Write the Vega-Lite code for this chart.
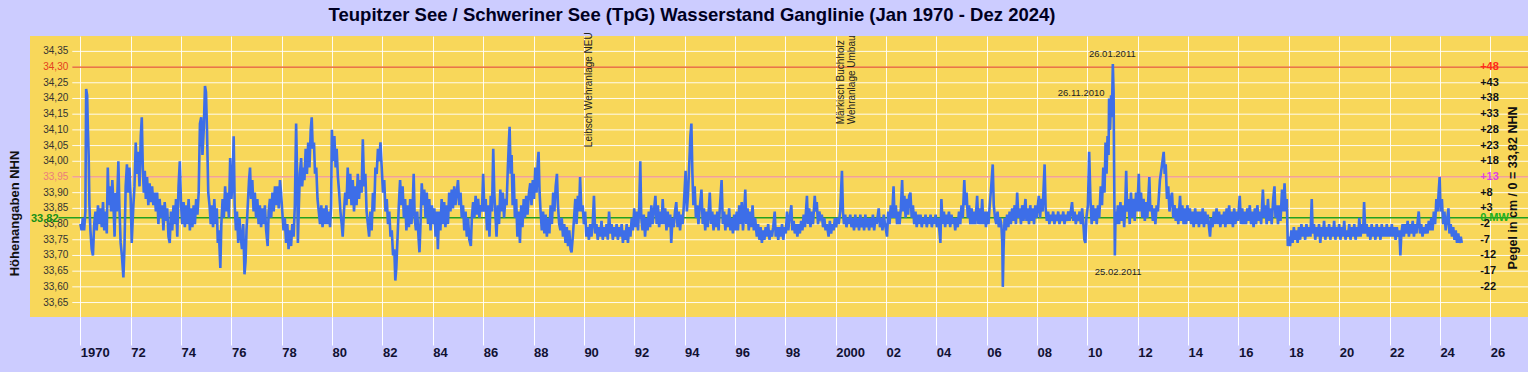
{
"$schema": "https://vega.github.io/schema/vega-lite/v6.json",
"width": 1498, "height": 281,
"autosize": {"type": "none"},
"padding": {"left": 30, "top": 36, "right": 0, "bottom": 55},
"background": "#CCCCFF",
"view": {"fill": "#F8D75A", "stroke": null},
"config": {"font": "Liberation Sans"},
"title": {"text": "Teupitzer See / Schweriner See (TpG) Wasserstand Ganglinie (Jan 1970 - Dez 2024)", "fontSize": 18.5, "fontWeight": "bold", "color": "#000022", "anchor": "middle", "dx": -87, "offset": 8},
"resolve": {"scale": {"color": "independent"}},
"datasets": {
"grid": [{"g":33.55,"lab":"33,65","k":"n"},{"g":33.60,"lab":"33,60","k":"n"},{"g":33.65,"lab":"33,65","k":"n"},{"g":33.70,"lab":"33,70","k":"n"},{"g":33.75,"lab":"33,75","k":"n"},{"g":33.80,"lab":"33,80","k":"n"},{"g":33.85,"lab":"33,85","k":"n"},{"g":33.90,"lab":"33,90","k":"n"},{"g":33.95,"lab":"33,95","k":"p"},{"g":34.00,"lab":"34,00","k":"n"},{"g":34.05,"lab":"34,05","k":"n"},{"g":34.10,"lab":"34,10","k":"n"},{"g":34.15,"lab":"34,15","k":"n"},{"g":34.20,"lab":"34,20","k":"n"},{"g":34.25,"lab":"34,25","k":"n"},{"g":34.30,"lab":"34,30","k":"r"},{"g":34.35,"lab":"34,35","k":"n"}],
"refs": [{"v":34.30,"k":"HW"},{"v":33.95,"k":"W"}],
"mw": [{"v":33.82,"lab":"33,82"}],
"rtitle": [{"lab":"Pegel in cm / 0 = 33,82 NHN"}],
"right": [{"v":34.30,"lab":"+48","k":"r"},{"v":34.25,"lab":"+43","k":"n"},{"v":34.20,"lab":"+38","k":"n"},{"v":34.15,"lab":"+33","k":"n"},{"v":34.10,"lab":"+28","k":"n"},{"v":34.05,"lab":"+23","k":"n"},{"v":34.00,"lab":"+18","k":"n"},{"v":33.95,"lab":"+13","k":"m"},{"v":33.90,"lab":"+8","k":"n"},{"v":33.85,"lab":"+3","k":"n"},{"v":33.82,"lab":"0 MW","k":"g"},{"v":33.80,"lab":"-2","k":"n"},{"v":33.75,"lab":"-7","k":"n"},{"v":33.70,"lab":"-12","k":"n"},{"v":33.65,"lab":"-17","k":"n"},{"v":33.60,"lab":"-22","k":"n"}],
"vnotes": [{"t":1990.21,"v":34.045,"txt":"Leibsch Wehranlage NEU"},{"t":2000.22,"v":34.118,"txt":"Märkisch Buchholz"},{"t":2000.64,"v":34.118,"txt":"Wehranlage Umbau"}],
"dnotes": [{"t":2010.99,"v":34.341,"txt":"26.01.2011"},{"t":2009.75,"v":34.217,"txt":"26.11.2010"},{"t":2011.22,"v":33.647,"txt":"25.02.2011"}],
"series": [
{"t":1970.00,"v":33.80},{"t":1970.05,"v":33.78},{"t":1970.10,"v":33.82},{"t":1970.15,"v":33.78},{"t":1970.20,"v":33.84},{"t":1970.23,"v":34.23},{"t":1970.27,"v":34.21},{"t":1970.30,"v":34.10},{"t":1970.33,"v":34.02},{"t":1970.36,"v":33.86},{"t":1970.40,"v":33.78},{"t":1970.45,"v":33.72},{"t":1970.50,"v":33.70},{"t":1970.55,"v":33.80},{"t":1970.60,"v":33.84},{"t":1970.65,"v":33.78},{"t":1970.70,"v":33.86},{"t":1970.75,"v":33.80},{"t":1970.80,"v":33.85},{"t":1970.85,"v":33.79},{"t":1970.90,"v":33.87},{"t":1970.95,"v":33.78},
{"t":1971.00,"v":33.84},{"t":1971.05,"v":33.77},{"t":1971.09,"v":33.98},{"t":1971.13,"v":33.86},{"t":1971.18,"v":33.92},{"t":1971.22,"v":33.84},{"t":1971.27,"v":33.94},{"t":1971.32,"v":33.85},{"t":1971.36,"v":33.76},{"t":1971.40,"v":33.90},{"t":1971.45,"v":33.84},{"t":1971.51,"v":34.00},{"t":1971.55,"v":33.86},{"t":1971.60,"v":33.74},{"t":1971.65,"v":33.70},{"t":1971.71,"v":33.63},{"t":1971.75,"v":33.72},{"t":1971.80,"v":33.92},{"t":1971.85,"v":33.99},{"t":1971.90,"v":33.90},{"t":1971.95,"v":33.98},
{"t":1972.00,"v":33.88},{"t":1972.04,"v":33.74},{"t":1972.10,"v":33.85},{"t":1972.15,"v":33.92},{"t":1972.20,"v":34.06},{"t":1972.25,"v":33.96},{"t":1972.30,"v":34.03},{"t":1972.35,"v":33.92},{"t":1972.40,"v":34.08},{"t":1972.44,"v":34.14},{"t":1972.48,"v":33.98},{"t":1972.52,"v":33.90},{"t":1972.56,"v":33.97},{"t":1972.60,"v":33.88},{"t":1972.65,"v":33.95},{"t":1972.70,"v":33.86},{"t":1972.75,"v":33.93},{"t":1972.80,"v":33.87},{"t":1972.85,"v":33.92},{"t":1972.90,"v":33.86},{"t":1972.95,"v":33.90},
{"t":1973.00,"v":33.84},{"t":1973.05,"v":33.90},{"t":1973.10,"v":33.80},{"t":1973.15,"v":33.88},{"t":1973.20,"v":33.82},{"t":1973.25,"v":33.86},{"t":1973.30,"v":33.78},{"t":1973.35,"v":33.87},{"t":1973.40,"v":33.81},{"t":1973.45,"v":33.85},{"t":1973.50,"v":33.76},{"t":1973.55,"v":33.74},{"t":1973.60,"v":33.84},{"t":1973.65,"v":33.78},{"t":1973.70,"v":33.86},{"t":1973.75,"v":33.80},{"t":1973.80,"v":33.88},{"t":1973.85,"v":33.76},{"t":1973.90,"v":33.92},{"t":1973.95,"v":34.00},
{"t":1974.00,"v":33.86},{"t":1974.05,"v":33.80},{"t":1974.10,"v":33.87},{"t":1974.15,"v":33.79},{"t":1974.20,"v":33.86},{"t":1974.25,"v":33.80},{"t":1974.30,"v":33.88},{"t":1974.35,"v":33.78},{"t":1974.40,"v":33.85},{"t":1974.45,"v":33.79},{"t":1974.50,"v":33.86},{"t":1974.55,"v":33.80},{"t":1974.60,"v":33.88},{"t":1974.65,"v":33.83},{"t":1974.70,"v":33.90},{"t":1974.75,"v":34.12},{"t":1974.80,"v":34.14},{"t":1974.85,"v":34.02},{"t":1974.90,"v":34.10},{"t":1974.95,"v":34.24},{"t":1974.99,"v":34.22},
{"t":1975.03,"v":34.10},{"t":1975.08,"v":33.90},{"t":1975.13,"v":33.86},{"t":1975.18,"v":33.80},{"t":1975.22,"v":33.86},{"t":1975.27,"v":33.79},{"t":1975.32,"v":33.88},{"t":1975.37,"v":33.80},{"t":1975.42,"v":33.85},{"t":1975.46,"v":33.74},{"t":1975.50,"v":33.78},{"t":1975.56,"v":33.66},{"t":1975.60,"v":33.80},{"t":1975.65,"v":33.88},{"t":1975.70,"v":33.82},{"t":1975.75,"v":33.92},{"t":1975.80,"v":33.84},{"t":1975.85,"v":33.90},{"t":1975.90,"v":33.82},{"t":1975.95,"v":34.01},
{"t":1976.00,"v":33.88},{"t":1976.05,"v":33.94},{"t":1976.09,"v":34.08},{"t":1976.13,"v":33.86},{"t":1976.18,"v":33.78},{"t":1976.22,"v":33.84},{"t":1976.27,"v":33.74},{"t":1976.32,"v":33.82},{"t":1976.37,"v":33.76},{"t":1976.42,"v":33.72},{"t":1976.47,"v":33.80},{"t":1976.52,"v":33.64},{"t":1976.56,"v":33.68},{"t":1976.60,"v":33.78},{"t":1976.65,"v":33.86},{"t":1976.70,"v":33.94},{"t":1976.74,"v":33.98},{"t":1976.78,"v":33.88},{"t":1976.83,"v":33.94},{"t":1976.88,"v":33.84},{"t":1976.93,"v":33.90},{"t":1976.98,"v":33.82},
{"t":1977.03,"v":33.88},{"t":1977.08,"v":33.80},{"t":1977.13,"v":33.86},{"t":1977.18,"v":33.79},{"t":1977.23,"v":33.85},{"t":1977.28,"v":33.80},{"t":1977.33,"v":33.86},{"t":1977.38,"v":33.78},{"t":1977.44,"v":33.73},{"t":1977.48,"v":33.84},{"t":1977.53,"v":33.88},{"t":1977.58,"v":33.82},{"t":1977.63,"v":33.90},{"t":1977.68,"v":33.84},{"t":1977.73,"v":33.92},{"t":1977.78,"v":33.86},{"t":1977.83,"v":33.92},{"t":1977.88,"v":33.85},{"t":1977.93,"v":33.94},{"t":1977.97,"v":33.90},
{"t":1978.02,"v":33.84},{"t":1978.07,"v":33.78},{"t":1978.12,"v":33.82},{"t":1978.17,"v":33.74},{"t":1978.22,"v":33.80},{"t":1978.27,"v":33.72},{"t":1978.32,"v":33.78},{"t":1978.37,"v":33.73},{"t":1978.42,"v":33.80},{"t":1978.47,"v":33.76},{"t":1978.52,"v":33.86},{"t":1978.57,"v":34.12},{"t":1978.61,"v":33.96},{"t":1978.64,"v":33.74},{"t":1978.68,"v":33.86},{"t":1978.72,"v":33.96},{"t":1978.77,"v":34.01},{"t":1978.81,"v":33.92},{"t":1978.86,"v":33.98},{"t":1978.90,"v":33.94},{"t":1978.95,"v":34.04},
{"t":1979.00,"v":33.96},{"t":1979.05,"v":34.06},{"t":1979.10,"v":33.98},{"t":1979.15,"v":34.10},{"t":1979.19,"v":34.14},{"t":1979.23,"v":34.04},{"t":1979.28,"v":34.06},{"t":1979.32,"v":33.96},{"t":1979.37,"v":33.98},{"t":1979.42,"v":33.88},{"t":1979.47,"v":33.84},{"t":1979.52,"v":33.80},{"t":1979.57,"v":33.86},{"t":1979.62,"v":33.79},{"t":1979.67,"v":33.85},{"t":1979.72,"v":33.80},{"t":1979.77,"v":33.86},{"t":1979.82,"v":33.80},{"t":1979.87,"v":33.84},{"t":1979.92,"v":33.79},{"t":1979.96,"v":33.86},{"t":1979.99,"v":34.10},
{"t":1980.04,"v":34.00},{"t":1980.09,"v":34.08},{"t":1980.14,"v":33.98},{"t":1980.18,"v":34.04},{"t":1980.23,"v":33.95},{"t":1980.28,"v":33.90},{"t":1980.33,"v":33.84},{"t":1980.38,"v":33.80},{"t":1980.42,"v":33.76},{"t":1980.47,"v":33.84},{"t":1980.52,"v":33.90},{"t":1980.57,"v":33.86},{"t":1980.62,"v":33.98},{"t":1980.67,"v":33.88},{"t":1980.72,"v":33.96},{"t":1980.77,"v":33.86},{"t":1980.82,"v":33.94},{"t":1980.87,"v":33.84},{"t":1980.92,"v":33.92},{"t":1980.97,"v":33.86},
{"t":1981.02,"v":33.96},{"t":1981.07,"v":33.88},{"t":1981.12,"v":33.94},{"t":1981.17,"v":33.90},{"t":1981.22,"v":34.07},{"t":1981.27,"v":33.92},{"t":1981.32,"v":33.96},{"t":1981.37,"v":33.84},{"t":1981.42,"v":33.80},{"t":1981.47,"v":33.76},{"t":1981.52,"v":33.84},{"t":1981.57,"v":33.78},{"t":1981.62,"v":33.90},{"t":1981.67,"v":33.84},{"t":1981.72,"v":33.98},{"t":1981.77,"v":33.96},{"t":1981.82,"v":34.04},{"t":1981.87,"v":34.00},{"t":1981.92,"v":34.06},{"t":1981.97,"v":33.98},
{"t":1982.02,"v":33.90},{"t":1982.07,"v":33.94},{"t":1982.12,"v":33.84},{"t":1982.17,"v":33.88},{"t":1982.22,"v":33.80},{"t":1982.27,"v":33.84},{"t":1982.32,"v":33.76},{"t":1982.37,"v":33.78},{"t":1982.42,"v":33.70},{"t":1982.47,"v":33.72},{"t":1982.51,"v":33.62},{"t":1982.55,"v":33.66},{"t":1982.60,"v":33.76},{"t":1982.65,"v":33.86},{"t":1982.70,"v":33.94},{"t":1982.75,"v":33.86},{"t":1982.80,"v":33.92},{"t":1982.85,"v":33.82},{"t":1982.90,"v":33.88},{"t":1982.95,"v":33.78},
{"t":1983.00,"v":33.86},{"t":1983.05,"v":33.79},{"t":1983.10,"v":33.88},{"t":1983.15,"v":33.80},{"t":1983.20,"v":33.86},{"t":1983.24,"v":33.96},{"t":1983.28,"v":33.82},{"t":1983.33,"v":33.78},{"t":1983.38,"v":33.84},{"t":1983.43,"v":33.76},{"t":1983.47,"v":33.71},{"t":1983.52,"v":33.82},{"t":1983.56,"v":33.93},{"t":1983.61,"v":33.86},{"t":1983.66,"v":33.91},{"t":1983.71,"v":33.82},{"t":1983.76,"v":33.90},{"t":1983.81,"v":33.80},{"t":1983.86,"v":33.88},{"t":1983.91,"v":33.78},{"t":1983.96,"v":33.86},
{"t":1984.01,"v":33.80},{"t":1984.06,"v":33.85},{"t":1984.11,"v":33.76},{"t":1984.16,"v":33.84},{"t":1984.20,"v":33.72},{"t":1984.25,"v":33.84},{"t":1984.30,"v":33.78},{"t":1984.35,"v":33.88},{"t":1984.40,"v":33.80},{"t":1984.45,"v":33.87},{"t":1984.50,"v":33.79},{"t":1984.55,"v":33.86},{"t":1984.60,"v":33.80},{"t":1984.65,"v":33.90},{"t":1984.70,"v":33.84},{"t":1984.75,"v":33.91},{"t":1984.80,"v":33.85},{"t":1984.85,"v":33.92},{"t":1984.90,"v":33.86},{"t":1984.95,"v":33.90},
{"t":1985.00,"v":33.94},{"t":1985.05,"v":33.86},{"t":1985.10,"v":33.90},{"t":1985.15,"v":33.82},{"t":1985.20,"v":33.86},{"t":1985.25,"v":33.78},{"t":1985.30,"v":33.84},{"t":1985.35,"v":33.76},{"t":1985.40,"v":33.82},{"t":1985.45,"v":33.75},{"t":1985.51,"v":33.73},{"t":1985.55,"v":33.82},{"t":1985.60,"v":33.87},{"t":1985.65,"v":33.82},{"t":1985.70,"v":33.89},{"t":1985.75,"v":33.83},{"t":1985.80,"v":33.88},{"t":1985.85,"v":33.82},{"t":1985.90,"v":33.86},{"t":1985.95,"v":33.84},
{"t":1986.00,"v":33.96},{"t":1986.05,"v":33.84},{"t":1986.10,"v":33.88},{"t":1986.15,"v":33.78},{"t":1986.20,"v":33.86},{"t":1986.25,"v":33.76},{"t":1986.30,"v":33.89},{"t":1986.35,"v":33.84},{"t":1986.40,"v":34.04},{"t":1986.44,"v":33.90},{"t":1986.48,"v":33.84},{"t":1986.53,"v":33.76},{"t":1986.58,"v":33.86},{"t":1986.63,"v":33.80},{"t":1986.68,"v":33.91},{"t":1986.73,"v":33.84},{"t":1986.78,"v":33.90},{"t":1986.83,"v":33.82},{"t":1986.88,"v":33.88},{"t":1986.93,"v":33.86},{"t":1986.98,"v":33.98},
{"t":1987.02,"v":34.06},{"t":1987.05,"v":34.11},{"t":1987.09,"v":33.96},{"t":1987.13,"v":34.02},{"t":1987.17,"v":33.86},{"t":1987.21,"v":33.96},{"t":1987.26,"v":33.82},{"t":1987.31,"v":33.88},{"t":1987.36,"v":33.76},{"t":1987.41,"v":33.84},{"t":1987.46,"v":33.74},{"t":1987.51,"v":33.86},{"t":1987.56,"v":33.79},{"t":1987.61,"v":33.88},{"t":1987.66,"v":33.82},{"t":1987.71,"v":33.89},{"t":1987.76,"v":33.83},{"t":1987.82,"v":33.90},{"t":1987.87,"v":33.93},{"t":1987.92,"v":33.86},{"t":1987.97,"v":33.94},
{"t":1988.02,"v":33.88},{"t":1988.07,"v":33.98},{"t":1988.12,"v":33.90},{"t":1988.17,"v":34.00},{"t":1988.20,"v":34.03},{"t":1988.24,"v":33.90},{"t":1988.28,"v":33.84},{"t":1988.33,"v":33.78},{"t":1988.38,"v":33.84},{"t":1988.43,"v":33.77},{"t":1988.48,"v":33.83},{"t":1988.53,"v":33.76},{"t":1988.58,"v":33.82},{"t":1988.63,"v":33.77},{"t":1988.68,"v":33.86},{"t":1988.73,"v":33.80},{"t":1988.78,"v":33.90},{"t":1988.83,"v":33.84},{"t":1988.88,"v":33.92},{"t":1988.93,"v":33.96},{"t":1988.97,"v":33.86},
{"t":1989.02,"v":33.80},{"t":1989.07,"v":33.78},{"t":1989.12,"v":33.82},{"t":1989.17,"v":33.76},{"t":1989.22,"v":33.80},{"t":1989.27,"v":33.74},{"t":1989.32,"v":33.79},{"t":1989.37,"v":33.73},{"t":1989.42,"v":33.78},{"t":1989.47,"v":33.72},{"t":1989.51,"v":33.71},{"t":1989.56,"v":33.76},{"t":1989.61,"v":33.82},{"t":1989.66,"v":33.88},{"t":1989.71,"v":33.80},{"t":1989.76,"v":33.89},{"t":1989.81,"v":33.84},{"t":1989.85,"v":33.95},{"t":1989.90,"v":33.84},{"t":1989.95,"v":33.86},
{"t":1990.00,"v":33.80},{"t":1990.05,"v":33.84},{"t":1990.10,"v":33.76},{"t":1990.15,"v":33.79},{"t":1990.20,"v":33.75},{"t":1990.25,"v":33.80},{"t":1990.30,"v":33.76},{"t":1990.35,"v":33.80},{"t":1990.40,"v":33.89},{"t":1990.45,"v":33.77},{"t":1990.50,"v":33.80},{"t":1990.55,"v":33.75},{"t":1990.60,"v":33.79},{"t":1990.65,"v":33.76},{"t":1990.70,"v":33.81},{"t":1990.75,"v":33.75},{"t":1990.80,"v":33.79},{"t":1990.85,"v":33.76},{"t":1990.90,"v":33.80},{"t":1990.95,"v":33.75},
{"t":1991.00,"v":33.84},{"t":1991.05,"v":33.77},{"t":1991.10,"v":33.80},{"t":1991.15,"v":33.75},{"t":1991.20,"v":33.79},{"t":1991.25,"v":33.76},{"t":1991.30,"v":33.80},{"t":1991.35,"v":33.75},{"t":1991.40,"v":33.79},{"t":1991.45,"v":33.76},{"t":1991.50,"v":33.80},{"t":1991.55,"v":33.74},{"t":1991.60,"v":33.78},{"t":1991.65,"v":33.75},{"t":1991.70,"v":33.80},{"t":1991.75,"v":33.74},{"t":1991.80,"v":33.79},{"t":1991.85,"v":33.76},{"t":1991.90,"v":33.82},{"t":1991.95,"v":33.78},
{"t":1992.00,"v":33.85},{"t":1992.05,"v":33.79},{"t":1992.10,"v":33.84},{"t":1992.15,"v":33.78},{"t":1992.20,"v":33.86},{"t":1992.24,"v":34.00},{"t":1992.28,"v":33.82},{"t":1992.33,"v":33.78},{"t":1992.38,"v":33.83},{"t":1992.43,"v":33.76},{"t":1992.48,"v":33.82},{"t":1992.53,"v":33.78},{"t":1992.58,"v":33.84},{"t":1992.63,"v":33.79},{"t":1992.68,"v":33.86},{"t":1992.73,"v":33.80},{"t":1992.78,"v":33.84},{"t":1992.84,"v":33.89},{"t":1992.89,"v":33.80},{"t":1992.94,"v":33.86},{"t":1992.99,"v":33.79},
{"t":1993.04,"v":33.84},{"t":1993.09,"v":33.80},{"t":1993.13,"v":33.88},{"t":1993.18,"v":33.80},{"t":1993.23,"v":33.85},{"t":1993.28,"v":33.78},{"t":1993.33,"v":33.84},{"t":1993.38,"v":33.79},{"t":1993.43,"v":33.83},{"t":1993.47,"v":33.74},{"t":1993.52,"v":33.82},{"t":1993.57,"v":33.79},{"t":1993.62,"v":33.84},{"t":1993.67,"v":33.87},{"t":1993.72,"v":33.79},{"t":1993.77,"v":33.84},{"t":1993.82,"v":33.78},{"t":1993.87,"v":33.83},{"t":1993.92,"v":33.80},{"t":1993.97,"v":33.86},
{"t":1994.04,"v":33.97},{"t":1994.09,"v":33.84},{"t":1994.14,"v":33.90},{"t":1994.19,"v":34.00},{"t":1994.23,"v":34.08},{"t":1994.27,"v":34.12},{"t":1994.31,"v":33.96},{"t":1994.35,"v":33.86},{"t":1994.40,"v":33.92},{"t":1994.45,"v":33.82},{"t":1994.50,"v":33.86},{"t":1994.55,"v":33.80},{"t":1994.60,"v":33.85},{"t":1994.67,"v":33.91},{"t":1994.72,"v":33.80},{"t":1994.77,"v":33.85},{"t":1994.82,"v":33.78},{"t":1994.87,"v":33.84},{"t":1994.92,"v":33.79},
{"t":1995.00,"v":33.90},{"t":1995.05,"v":33.80},{"t":1995.10,"v":33.84},{"t":1995.15,"v":33.78},{"t":1995.20,"v":33.83},{"t":1995.25,"v":33.79},{"t":1995.30,"v":33.84},{"t":1995.35,"v":33.78},{"t":1995.40,"v":33.85},{"t":1995.47,"v":33.94},{"t":1995.52,"v":33.80},{"t":1995.57,"v":33.84},{"t":1995.62,"v":33.78},{"t":1995.67,"v":33.83},{"t":1995.72,"v":33.79},{"t":1995.77,"v":33.85},{"t":1995.82,"v":33.78},{"t":1995.87,"v":33.82},{"t":1995.92,"v":33.77},{"t":1995.97,"v":33.83},
{"t":1996.02,"v":33.78},{"t":1996.07,"v":33.84},{"t":1996.12,"v":33.78},{"t":1996.17,"v":33.86},{"t":1996.22,"v":33.80},{"t":1996.27,"v":33.87},{"t":1996.32,"v":33.78},{"t":1996.37,"v":33.84},{"t":1996.41,"v":33.91},{"t":1996.45,"v":33.80},{"t":1996.50,"v":33.85},{"t":1996.55,"v":33.78},{"t":1996.60,"v":33.84},{"t":1996.65,"v":33.79},{"t":1996.70,"v":33.86},{"t":1996.75,"v":33.78},{"t":1996.80,"v":33.82},{"t":1996.87,"v":33.76},{"t":1996.92,"v":33.80},{"t":1996.97,"v":33.75},
{"t":1997.02,"v":33.79},{"t":1997.07,"v":33.74},{"t":1997.12,"v":33.78},{"t":1997.17,"v":33.75},{"t":1997.22,"v":33.79},{"t":1997.27,"v":33.76},{"t":1997.32,"v":33.80},{"t":1997.37,"v":33.75},{"t":1997.42,"v":33.78},{"t":1997.47,"v":33.76},{"t":1997.52,"v":33.79},{"t":1997.58,"v":33.84},{"t":1997.62,"v":33.76},{"t":1997.67,"v":33.79},{"t":1997.72,"v":33.75},{"t":1997.77,"v":33.79},{"t":1997.82,"v":33.76},{"t":1997.87,"v":33.80},{"t":1997.92,"v":33.75},{"t":1997.97,"v":33.79},
{"t":1998.02,"v":33.77},{"t":1998.07,"v":33.84},{"t":1998.12,"v":33.78},{"t":1998.17,"v":33.82},{"t":1998.24,"v":33.86},{"t":1998.28,"v":33.78},{"t":1998.33,"v":33.81},{"t":1998.38,"v":33.77},{"t":1998.43,"v":33.80},{"t":1998.48,"v":33.76},{"t":1998.53,"v":33.80},{"t":1998.58,"v":33.77},{"t":1998.63,"v":33.81},{"t":1998.68,"v":33.78},{"t":1998.73,"v":33.83},{"t":1998.78,"v":33.79},{"t":1998.86,"v":33.89},{"t":1998.90,"v":33.80},{"t":1998.95,"v":33.85},
{"t":1999.00,"v":33.79},{"t":1999.05,"v":33.84},{"t":1999.10,"v":33.80},{"t":1999.17,"v":33.89},{"t":1999.21,"v":33.84},{"t":1999.25,"v":33.87},{"t":1999.30,"v":33.80},{"t":1999.35,"v":33.84},{"t":1999.40,"v":33.82},{"t":1999.45,"v":33.83},{"t":1999.50,"v":33.79},{"t":1999.55,"v":33.82},{"t":1999.60,"v":33.78},{"t":1999.65,"v":33.80},{"t":1999.72,"v":33.76},{"t":1999.77,"v":33.81},{"t":1999.82,"v":33.77},{"t":1999.87,"v":33.80},{"t":1999.92,"v":33.78},{"t":1999.97,"v":33.82},
{"t":2000.02,"v":33.79},{"t":2000.07,"v":33.82},{"t":2000.12,"v":33.80},{"t":2000.18,"v":33.84},{"t":2000.25,"v":33.97},{"t":2000.29,"v":33.84},{"t":2000.33,"v":33.80},{"t":2000.38,"v":33.83},{"t":2000.43,"v":33.79},{"t":2000.48,"v":33.82},{"t":2000.53,"v":33.80},{"t":2000.58,"v":33.83},{"t":2000.63,"v":33.79},{"t":2000.68,"v":33.82},{"t":2000.73,"v":33.78},{"t":2000.78,"v":33.83},{"t":2000.83,"v":33.79},{"t":2000.88,"v":33.82},{"t":2000.93,"v":33.78},{"t":2000.98,"v":33.83},
{"t":2001.03,"v":33.79},{"t":2001.08,"v":33.82},{"t":2001.13,"v":33.78},{"t":2001.18,"v":33.83},{"t":2001.23,"v":33.79},{"t":2001.28,"v":33.82},{"t":2001.33,"v":33.78},{"t":2001.38,"v":33.82},{"t":2001.43,"v":33.79},{"t":2001.48,"v":33.83},{"t":2001.53,"v":33.78},{"t":2001.58,"v":33.82},{"t":2001.63,"v":33.80},{"t":2001.71,"v":33.85},{"t":2001.76,"v":33.79},{"t":2001.81,"v":33.82},{"t":2001.86,"v":33.78},{"t":2001.91,"v":33.83},{"t":2001.96,"v":33.80},
{"t":2002.04,"v":33.76},{"t":2002.09,"v":33.84},{"t":2002.14,"v":33.80},{"t":2002.19,"v":33.86},{"t":2002.24,"v":33.82},{"t":2002.30,"v":33.92},{"t":2002.34,"v":33.82},{"t":2002.39,"v":33.86},{"t":2002.44,"v":33.80},{"t":2002.49,"v":33.84},{"t":2002.54,"v":33.80},{"t":2002.59,"v":33.85},{"t":2002.64,"v":33.94},{"t":2002.68,"v":33.84},{"t":2002.73,"v":33.89},{"t":2002.78,"v":33.82},{"t":2002.83,"v":33.88},{"t":2002.88,"v":33.83},{"t":2002.92,"v":33.89},{"t":2002.97,"v":33.90},
{"t":2003.02,"v":33.82},{"t":2003.07,"v":33.86},{"t":2003.12,"v":33.80},{"t":2003.17,"v":33.84},{"t":2003.22,"v":33.79},{"t":2003.27,"v":33.83},{"t":2003.32,"v":33.80},{"t":2003.37,"v":33.83},{"t":2003.42,"v":33.79},{"t":2003.47,"v":33.82},{"t":2003.52,"v":33.80},{"t":2003.57,"v":33.83},{"t":2003.62,"v":33.79},{"t":2003.67,"v":33.82},{"t":2003.72,"v":33.80},{"t":2003.77,"v":33.83},{"t":2003.82,"v":33.79},{"t":2003.87,"v":33.82},{"t":2003.92,"v":33.80},{"t":2003.97,"v":33.83},
{"t":2004.02,"v":33.79},{"t":2004.07,"v":33.82},{"t":2004.12,"v":33.78},{"t":2004.16,"v":33.74},{"t":2004.20,"v":33.88},{"t":2004.25,"v":33.80},{"t":2004.30,"v":33.84},{"t":2004.35,"v":33.79},{"t":2004.40,"v":33.83},{"t":2004.45,"v":33.80},{"t":2004.50,"v":33.84},{"t":2004.55,"v":33.79},{"t":2004.60,"v":33.83},{"t":2004.65,"v":33.80},{"t":2004.70,"v":33.82},{"t":2004.75,"v":33.78},{"t":2004.80,"v":33.82},{"t":2004.85,"v":33.79},{"t":2004.90,"v":33.84},{"t":2004.95,"v":33.80},
{"t":2005.00,"v":33.86},{"t":2005.05,"v":33.82},{"t":2005.11,"v":33.94},{"t":2005.15,"v":33.86},{"t":2005.20,"v":33.90},{"t":2005.25,"v":33.82},{"t":2005.30,"v":33.86},{"t":2005.35,"v":33.80},{"t":2005.40,"v":33.85},{"t":2005.45,"v":33.80},{"t":2005.50,"v":33.84},{"t":2005.55,"v":33.80},{"t":2005.62,"v":33.89},{"t":2005.67,"v":33.80},{"t":2005.72,"v":33.85},{"t":2005.77,"v":33.80},{"t":2005.82,"v":33.88},{"t":2005.87,"v":33.80},{"t":2005.92,"v":33.84},{"t":2005.97,"v":33.79},
{"t":2006.02,"v":33.84},{"t":2006.07,"v":33.80},{"t":2006.12,"v":33.86},{"t":2006.18,"v":33.92},{"t":2006.24,"v":33.99},{"t":2006.28,"v":33.86},{"t":2006.33,"v":33.82},{"t":2006.38,"v":33.80},{"t":2006.43,"v":33.84},{"t":2006.48,"v":33.79},{"t":2006.53,"v":33.82},{"t":2006.58,"v":33.80},{"t":2006.62,"v":33.74},{"t":2006.64,"v":33.60},{"t":2006.67,"v":33.72},{"t":2006.71,"v":33.82},{"t":2006.76,"v":33.78},{"t":2006.81,"v":33.83},{"t":2006.86,"v":33.79},{"t":2006.91,"v":33.84},{"t":2006.96,"v":33.80},
{"t":2007.01,"v":33.85},{"t":2007.06,"v":33.81},{"t":2007.11,"v":33.86},{"t":2007.16,"v":33.80},{"t":2007.21,"v":33.90},{"t":2007.26,"v":33.82},{"t":2007.31,"v":33.85},{"t":2007.36,"v":33.80},{"t":2007.41,"v":33.86},{"t":2007.46,"v":33.81},{"t":2007.54,"v":33.88},{"t":2007.58,"v":33.81},{"t":2007.63,"v":33.85},{"t":2007.68,"v":33.80},{"t":2007.73,"v":33.86},{"t":2007.78,"v":33.81},{"t":2007.83,"v":33.85},{"t":2007.88,"v":33.80},{"t":2007.93,"v":33.86},{"t":2007.98,"v":33.82},
{"t":2008.07,"v":33.89},{"t":2008.12,"v":33.82},{"t":2008.17,"v":33.88},{"t":2008.22,"v":33.84},{"t":2008.30,"v":33.99},{"t":2008.34,"v":33.85},{"t":2008.39,"v":33.81},{"t":2008.44,"v":33.84},{"t":2008.49,"v":33.80},{"t":2008.54,"v":33.83},{"t":2008.59,"v":33.81},{"t":2008.64,"v":33.84},{"t":2008.69,"v":33.80},{"t":2008.74,"v":33.83},{"t":2008.79,"v":33.81},{"t":2008.84,"v":33.84},{"t":2008.89,"v":33.80},{"t":2008.94,"v":33.83},{"t":2008.99,"v":33.81},
{"t":2009.04,"v":33.84},{"t":2009.09,"v":33.80},{"t":2009.14,"v":33.83},{"t":2009.19,"v":33.81},{"t":2009.24,"v":33.84},{"t":2009.29,"v":33.81},{"t":2009.34,"v":33.84},{"t":2009.39,"v":33.87},{"t":2009.44,"v":33.81},{"t":2009.49,"v":33.84},{"t":2009.54,"v":33.80},{"t":2009.59,"v":33.83},{"t":2009.64,"v":33.81},{"t":2009.69,"v":33.84},{"t":2009.74,"v":33.80},{"t":2009.79,"v":33.85},{"t":2009.84,"v":33.80},{"t":2009.88,"v":33.75},{"t":2009.92,"v":33.74},{"t":2009.96,"v":33.82},
{"t":2010.02,"v":33.86},{"t":2010.07,"v":34.03},{"t":2010.12,"v":33.88},{"t":2010.17,"v":33.80},{"t":2010.22,"v":33.86},{"t":2010.27,"v":33.81},{"t":2010.32,"v":33.85},{"t":2010.37,"v":33.80},{"t":2010.42,"v":33.86},{"t":2010.47,"v":33.82},{"t":2010.53,"v":33.92},{"t":2010.58,"v":33.86},{"t":2010.63,"v":33.98},{"t":2010.68,"v":33.90},{"t":2010.72,"v":34.06},{"t":2010.76,"v":33.96},{"t":2010.80,"v":34.08},{"t":2010.84,"v":34.02},{"t":2010.86,"v":34.20},{"t":2010.90,"v":34.10},{"t":2010.94,"v":34.21},{"t":2010.97,"v":34.14},
{"t":2011.01,"v":34.31},{"t":2011.04,"v":34.22},{"t":2011.06,"v":33.98},{"t":2011.09,"v":33.70},{"t":2011.12,"v":33.84},{"t":2011.16,"v":33.80},{"t":2011.21,"v":33.86},{"t":2011.26,"v":33.80},{"t":2011.31,"v":33.87},{"t":2011.36,"v":33.81},{"t":2011.41,"v":33.86},{"t":2011.46,"v":33.79},{"t":2011.50,"v":33.85},{"t":2011.54,"v":33.97},{"t":2011.58,"v":33.84},{"t":2011.63,"v":33.88},{"t":2011.68,"v":33.80},{"t":2011.73,"v":33.90},{"t":2011.78,"v":33.82},{"t":2011.83,"v":33.88},{"t":2011.88,"v":33.81},{"t":2011.93,"v":33.90},{"t":2011.98,"v":33.84},
{"t":2012.04,"v":33.96},{"t":2012.08,"v":33.84},{"t":2012.13,"v":33.90},{"t":2012.18,"v":33.82},{"t":2012.23,"v":33.88},{"t":2012.28,"v":33.81},{"t":2012.33,"v":33.87},{"t":2012.38,"v":33.82},{"t":2012.46,"v":33.95},{"t":2012.50,"v":33.84},{"t":2012.55,"v":33.86},{"t":2012.60,"v":33.81},{"t":2012.65,"v":33.85},{"t":2012.70,"v":33.80},{"t":2012.75,"v":33.86},{"t":2012.80,"v":33.84},{"t":2012.88,"v":33.94},{"t":2012.95,"v":33.98},
{"t":2013.03,"v":34.03},{"t":2013.07,"v":33.96},{"t":2013.11,"v":33.99},{"t":2013.16,"v":33.88},{"t":2013.21,"v":33.92},{"t":2013.26,"v":33.84},{"t":2013.31,"v":33.88},{"t":2013.36,"v":33.90},{"t":2013.41,"v":33.82},{"t":2013.46,"v":33.86},{"t":2013.51,"v":33.81},{"t":2013.56,"v":33.85},{"t":2013.61,"v":33.80},{"t":2013.68,"v":33.89},{"t":2013.72,"v":33.81},{"t":2013.77,"v":33.86},{"t":2013.82,"v":33.80},{"t":2013.87,"v":33.85},{"t":2013.92,"v":33.80},{"t":2013.97,"v":33.86},
{"t":2014.02,"v":33.81},{"t":2014.07,"v":33.85},{"t":2014.12,"v":33.80},{"t":2014.17,"v":33.84},{"t":2014.22,"v":33.79},{"t":2014.28,"v":33.85},{"t":2014.33,"v":33.80},{"t":2014.38,"v":33.84},{"t":2014.43,"v":33.79},{"t":2014.48,"v":33.84},{"t":2014.53,"v":33.80},{"t":2014.58,"v":33.85},{"t":2014.63,"v":33.79},{"t":2014.68,"v":33.84},{"t":2014.73,"v":33.80},{"t":2014.78,"v":33.83},{"t":2014.83,"v":33.79},{"t":2014.87,"v":33.76},{"t":2014.92,"v":33.82},{"t":2014.97,"v":33.79},
{"t":2015.02,"v":33.84},{"t":2015.07,"v":33.80},{"t":2015.13,"v":33.85},{"t":2015.18,"v":33.80},{"t":2015.23,"v":33.84},{"t":2015.28,"v":33.79},{"t":2015.33,"v":33.83},{"t":2015.38,"v":33.80},{"t":2015.43,"v":33.84},{"t":2015.48,"v":33.79},{"t":2015.53,"v":33.85},{"t":2015.58,"v":33.80},{"t":2015.63,"v":33.86},{"t":2015.68,"v":33.80},{"t":2015.73,"v":33.84},{"t":2015.78,"v":33.79},{"t":2015.83,"v":33.85},{"t":2015.88,"v":33.80},{"t":2015.93,"v":33.84},{"t":2015.98,"v":33.81},
{"t":2016.05,"v":33.89},{"t":2016.10,"v":33.80},{"t":2016.15,"v":33.85},{"t":2016.20,"v":33.80},{"t":2016.25,"v":33.84},{"t":2016.30,"v":33.80},{"t":2016.35,"v":33.85},{"t":2016.40,"v":33.81},{"t":2016.45,"v":33.86},{"t":2016.50,"v":33.80},{"t":2016.55,"v":33.84},{"t":2016.60,"v":33.79},{"t":2016.65,"v":33.85},{"t":2016.70,"v":33.80},{"t":2016.75,"v":33.86},{"t":2016.80,"v":33.81},{"t":2016.85,"v":33.84},{"t":2016.90,"v":33.80},{"t":2016.97,"v":33.91},
{"t":2017.02,"v":33.82},{"t":2017.07,"v":33.86},{"t":2017.12,"v":33.80},{"t":2017.17,"v":33.88},{"t":2017.22,"v":33.81},{"t":2017.27,"v":33.85},{"t":2017.32,"v":33.80},{"t":2017.38,"v":33.88},{"t":2017.43,"v":33.92},{"t":2017.47,"v":33.82},{"t":2017.52,"v":33.86},{"t":2017.57,"v":33.80},{"t":2017.62,"v":33.86},{"t":2017.67,"v":33.81},{"t":2017.73,"v":33.91},{"t":2017.78,"v":33.84},{"t":2017.83,"v":33.93},{"t":2017.88,"v":33.84},{"t":2017.92,"v":33.88},{"t":2017.96,"v":33.73},
{"t":2018.00,"v":33.76},{"t":2018.05,"v":33.73},{"t":2018.10,"v":33.78},{"t":2018.15,"v":33.74},{"t":2018.20,"v":33.79},{"t":2018.25,"v":33.75},{"t":2018.30,"v":33.78},{"t":2018.35,"v":33.74},{"t":2018.40,"v":33.79},{"t":2018.45,"v":33.75},{"t":2018.50,"v":33.80},{"t":2018.55,"v":33.76},{"t":2018.60,"v":33.79},{"t":2018.65,"v":33.75},{"t":2018.70,"v":33.80},{"t":2018.75,"v":33.76},{"t":2018.80,"v":33.79},{"t":2018.86,"v":33.76},{"t":2018.91,"v":33.88},{"t":2018.95,"v":33.77},
{"t":2019.00,"v":33.80},{"t":2019.05,"v":33.75},{"t":2019.10,"v":33.79},{"t":2019.15,"v":33.76},{"t":2019.20,"v":33.80},{"t":2019.25,"v":33.74},{"t":2019.30,"v":33.79},{"t":2019.35,"v":33.76},{"t":2019.40,"v":33.81},{"t":2019.45,"v":33.75},{"t":2019.50,"v":33.79},{"t":2019.55,"v":33.76},{"t":2019.60,"v":33.80},{"t":2019.65,"v":33.75},{"t":2019.70,"v":33.79},{"t":2019.75,"v":33.76},{"t":2019.80,"v":33.81},{"t":2019.85,"v":33.75},{"t":2019.90,"v":33.79},{"t":2019.95,"v":33.76},
{"t":2020.00,"v":33.80},{"t":2020.05,"v":33.75},{"t":2020.10,"v":33.79},{"t":2020.15,"v":33.76},{"t":2020.20,"v":33.81},{"t":2020.25,"v":33.75},{"t":2020.30,"v":33.78},{"t":2020.35,"v":33.76},{"t":2020.40,"v":33.80},{"t":2020.45,"v":33.75},{"t":2020.50,"v":33.79},{"t":2020.55,"v":33.76},{"t":2020.60,"v":33.80},{"t":2020.65,"v":33.75},{"t":2020.70,"v":33.79},{"t":2020.75,"v":33.76},{"t":2020.80,"v":33.82},{"t":2020.85,"v":33.76},{"t":2020.90,"v":33.80},{"t":2020.95,"v":33.77},{"t":2020.99,"v":33.87},
{"t":2021.04,"v":33.77},{"t":2021.09,"v":33.80},{"t":2021.14,"v":33.76},{"t":2021.19,"v":33.79},{"t":2021.24,"v":33.75},{"t":2021.29,"v":33.80},{"t":2021.34,"v":33.76},{"t":2021.39,"v":33.79},{"t":2021.44,"v":33.75},{"t":2021.49,"v":33.80},{"t":2021.54,"v":33.76},{"t":2021.59,"v":33.79},{"t":2021.64,"v":33.75},{"t":2021.69,"v":33.80},{"t":2021.74,"v":33.76},{"t":2021.79,"v":33.79},{"t":2021.84,"v":33.76},{"t":2021.89,"v":33.80},{"t":2021.94,"v":33.76},{"t":2021.99,"v":33.79},
{"t":2022.04,"v":33.76},{"t":2022.09,"v":33.80},{"t":2022.14,"v":33.76},{"t":2022.19,"v":33.79},{"t":2022.24,"v":33.75},{"t":2022.29,"v":33.79},{"t":2022.34,"v":33.76},{"t":2022.39,"v":33.78},{"t":2022.43,"v":33.70},{"t":2022.47,"v":33.77},{"t":2022.52,"v":33.80},{"t":2022.57,"v":33.76},{"t":2022.62,"v":33.80},{"t":2022.67,"v":33.77},{"t":2022.72,"v":33.81},{"t":2022.77,"v":33.76},{"t":2022.82,"v":33.80},{"t":2022.87,"v":33.77},{"t":2022.92,"v":33.81},{"t":2022.97,"v":33.76},
{"t":2023.02,"v":33.80},{"t":2023.07,"v":33.77},{"t":2023.12,"v":33.81},{"t":2023.16,"v":33.84},{"t":2023.21,"v":33.77},{"t":2023.26,"v":33.80},{"t":2023.31,"v":33.76},{"t":2023.36,"v":33.79},{"t":2023.41,"v":33.77},{"t":2023.46,"v":33.80},{"t":2023.51,"v":33.77},{"t":2023.56,"v":33.81},{"t":2023.61,"v":33.78},{"t":2023.66,"v":33.82},{"t":2023.71,"v":33.78},{"t":2023.76,"v":33.84},{"t":2023.81,"v":33.80},{"t":2023.86,"v":33.88},{"t":2023.91,"v":33.84},{"t":2023.95,"v":33.90},{"t":2023.99,"v":33.95},
{"t":2024.03,"v":33.84},{"t":2024.08,"v":33.88},{"t":2024.13,"v":33.80},{"t":2024.18,"v":33.84},{"t":2024.23,"v":33.78},{"t":2024.28,"v":33.81},{"t":2024.34,"v":33.85},{"t":2024.38,"v":33.77},{"t":2024.43,"v":33.80},{"t":2024.48,"v":33.76},{"t":2024.53,"v":33.79},{"t":2024.58,"v":33.75},{"t":2024.63,"v":33.78},{"t":2024.68,"v":33.74},{"t":2024.73,"v":33.77},{"t":2024.78,"v":33.74},{"t":2024.83,"v":33.76},{"t":2024.87,"v":33.74}
]
},
"layer": [
{"data": {"name": "grid"}, "mark": {"type": "rule", "color": "#FFFFFF", "strokeWidth": 1, "opacity": 0.9},
 "encoding": {
  "y": {"field": "g", "type": "quantitative", "scale": {"domain": [33.504, 34.399], "nice": false, "zero": false},
   "axis": {"orient": "left", "offset": -42, "labels": false, "grid": false, "ticks": false, "domain": false,
    "title": "Höhenangaben  NHN", "titleX": -58, "titleY": 177, "titleAngle": 270, "titleAlign": "center", "titleBaseline": "middle",
    "titleFontSize": 13, "titleFontWeight": "bold", "titleColor": "#111111"}},
  "x": {"datum": 1969.68, "type": "quantitative", "scale": {"domain": [1968.0, 2027.5], "nice": false, "zero": false},
   "axis": {"title": null, "values": [1970,1972,1974,1976,1978,1980,1982,1984,1986,1988,1990,1992,1994,1996,1998,2000,2002,2004,2006,2008,2010,2012,2014,2016,2018,2020,2022,2024,2026],
    "labelExpr": "(datum.value == 1970 || datum.value == 2000) ? toString(datum.value) : slice(toString(datum.value), 2)",
    "grid": true, "gridColor": "#FFFFFF", "gridOpacity": 0.9, "domain": false,
    "ticks": true, "tickSize": 28, "tickColor": "#FFFFFF", "tickWidth": 1,
    "labelAlign": "left", "labelDx": -3, "labelPadding": 1, "labelFontSize": 13, "labelFontWeight": "bold", "labelColor": "#111133", "labelOverlap": false}},
  "x2": {"datum": 2027.5}}},
{"data": {"name": "grid"}, "mark": {"type": "text", "align": "right", "baseline": "middle", "fontSize": 10},
 "encoding": {
  "y": {"field": "g", "type": "quantitative", "scale": {"domain": [33.504, 34.399], "nice": false, "zero": false}},
  "x": {"datum": 1969.52, "type": "quantitative", "scale": {"domain": [1968.0, 2027.5], "nice": false, "zero": false}},
  "text": {"field": "lab"},
  "color": {"field": "k", "type": "nominal", "scale": {"domain": ["r", "p", "n"], "range": ["#E4401C", "#EC7C7C", "#333333"]}, "legend": null}}},
{"data": {"name": "refs"}, "mark": {"type": "rule", "strokeWidth": 1.2},
 "encoding": {
  "y": {"field": "v", "type": "quantitative", "scale": {"domain": [33.504, 34.399], "nice": false, "zero": false}},
  "x": {"datum": 1969.68, "type": "quantitative", "scale": {"domain": [1968.0, 2027.5], "nice": false, "zero": false}},
  "x2": {"datum": 2027.5},
  "color": {"field": "k", "type": "nominal", "scale": {"domain": ["HW", "W"], "range": ["#E4501C", "#F08A8A"]}, "legend": null}}},
{"data": {"name": "mw"}, "mark": {"type": "rule", "strokeWidth": 1.5, "color": "#22A022"},
 "encoding": {
  "y": {"field": "v", "type": "quantitative", "scale": {"domain": [33.504, 34.399], "nice": false, "zero": false}},
  "x": {"datum": 1969.13, "type": "quantitative", "scale": {"domain": [1968.0, 2027.5], "nice": false, "zero": false}},
  "x2": {"datum": 2027.5}}},
{"data": {"name": "series"}, "mark": {"type": "line", "color": "#3D6EE8", "strokeWidth": 2.6, "strokeJoin": "miter"},
 "encoding": {
  "x": {"field": "t", "type": "quantitative", "scale": {"domain": [1968.0, 2027.5], "nice": false, "zero": false}},
  "y": {"field": "v", "type": "quantitative", "scale": {"domain": [33.504, 34.399], "nice": false, "zero": false}}}},
{"data": {"name": "vnotes"}, "mark": {"type": "text", "angle": 270, "align": "left", "baseline": "middle", "fontSize": 10, "color": "#222222"},
 "encoding": {
  "x": {"field": "t", "type": "quantitative", "scale": {"domain": [1968.0, 2027.5], "nice": false, "zero": false}},
  "y": {"field": "v", "type": "quantitative", "scale": {"domain": [33.504, 34.399], "nice": false, "zero": false}},
  "text": {"field": "txt"}}},
{"data": {"name": "dnotes"}, "mark": {"type": "text", "align": "center", "baseline": "middle", "fontSize": 9.5, "color": "#222222"},
 "encoding": {
  "x": {"field": "t", "type": "quantitative", "scale": {"domain": [1968.0, 2027.5], "nice": false, "zero": false}},
  "y": {"field": "v", "type": "quantitative", "scale": {"domain": [33.504, 34.399], "nice": false, "zero": false}},
  "text": {"field": "txt"}}},
{"data": {"name": "right"}, "mark": {"type": "text", "align": "left", "baseline": "middle", "fontSize": 11, "fontWeight": "bold"},
 "encoding": {
  "x": {"datum": 2025.6, "type": "quantitative", "scale": {"domain": [1968.0, 2027.5], "nice": false, "zero": false}},
  "y": {"field": "v", "type": "quantitative", "scale": {"domain": [33.504, 34.399], "nice": false, "zero": false}},
  "text": {"field": "lab"},
  "color": {"field": "k", "type": "nominal", "scale": {"domain": ["r", "m", "g", "n"], "range": ["#FF2A1A", "#E040E0", "#20B020", "#111111"]}, "legend": null}}},
{"data": {"name": "mw"}, "mark": {"type": "text", "align": "left", "baseline": "middle", "fontSize": 11, "fontWeight": "bold", "color": "#169016", "dx": 1, "dy": 1},
 "encoding": {
  "x": {"datum": 1968.0, "type": "quantitative", "scale": {"domain": [1968.0, 2027.5], "nice": false, "zero": false}},
  "y": {"field": "v", "type": "quantitative", "scale": {"domain": [33.504, 34.399], "nice": false, "zero": false}},
  "text": {"field": "lab"}}},
{"data": {"name": "rtitle"}, "mark": {"type": "text", "angle": 270, "align": "center", "baseline": "middle", "fontSize": 12.5, "fontWeight": "bold", "color": "#111111"},
 "encoding": {
  "x": {"datum": 2026.89, "type": "quantitative", "scale": {"domain": [1968.0, 2027.5], "nice": false, "zero": false}},
  "y": {"datum": 33.915, "type": "quantitative", "scale": {"domain": [33.504, 34.399], "nice": false, "zero": false}},
  "text": {"field": "lab"}}}
]
}
